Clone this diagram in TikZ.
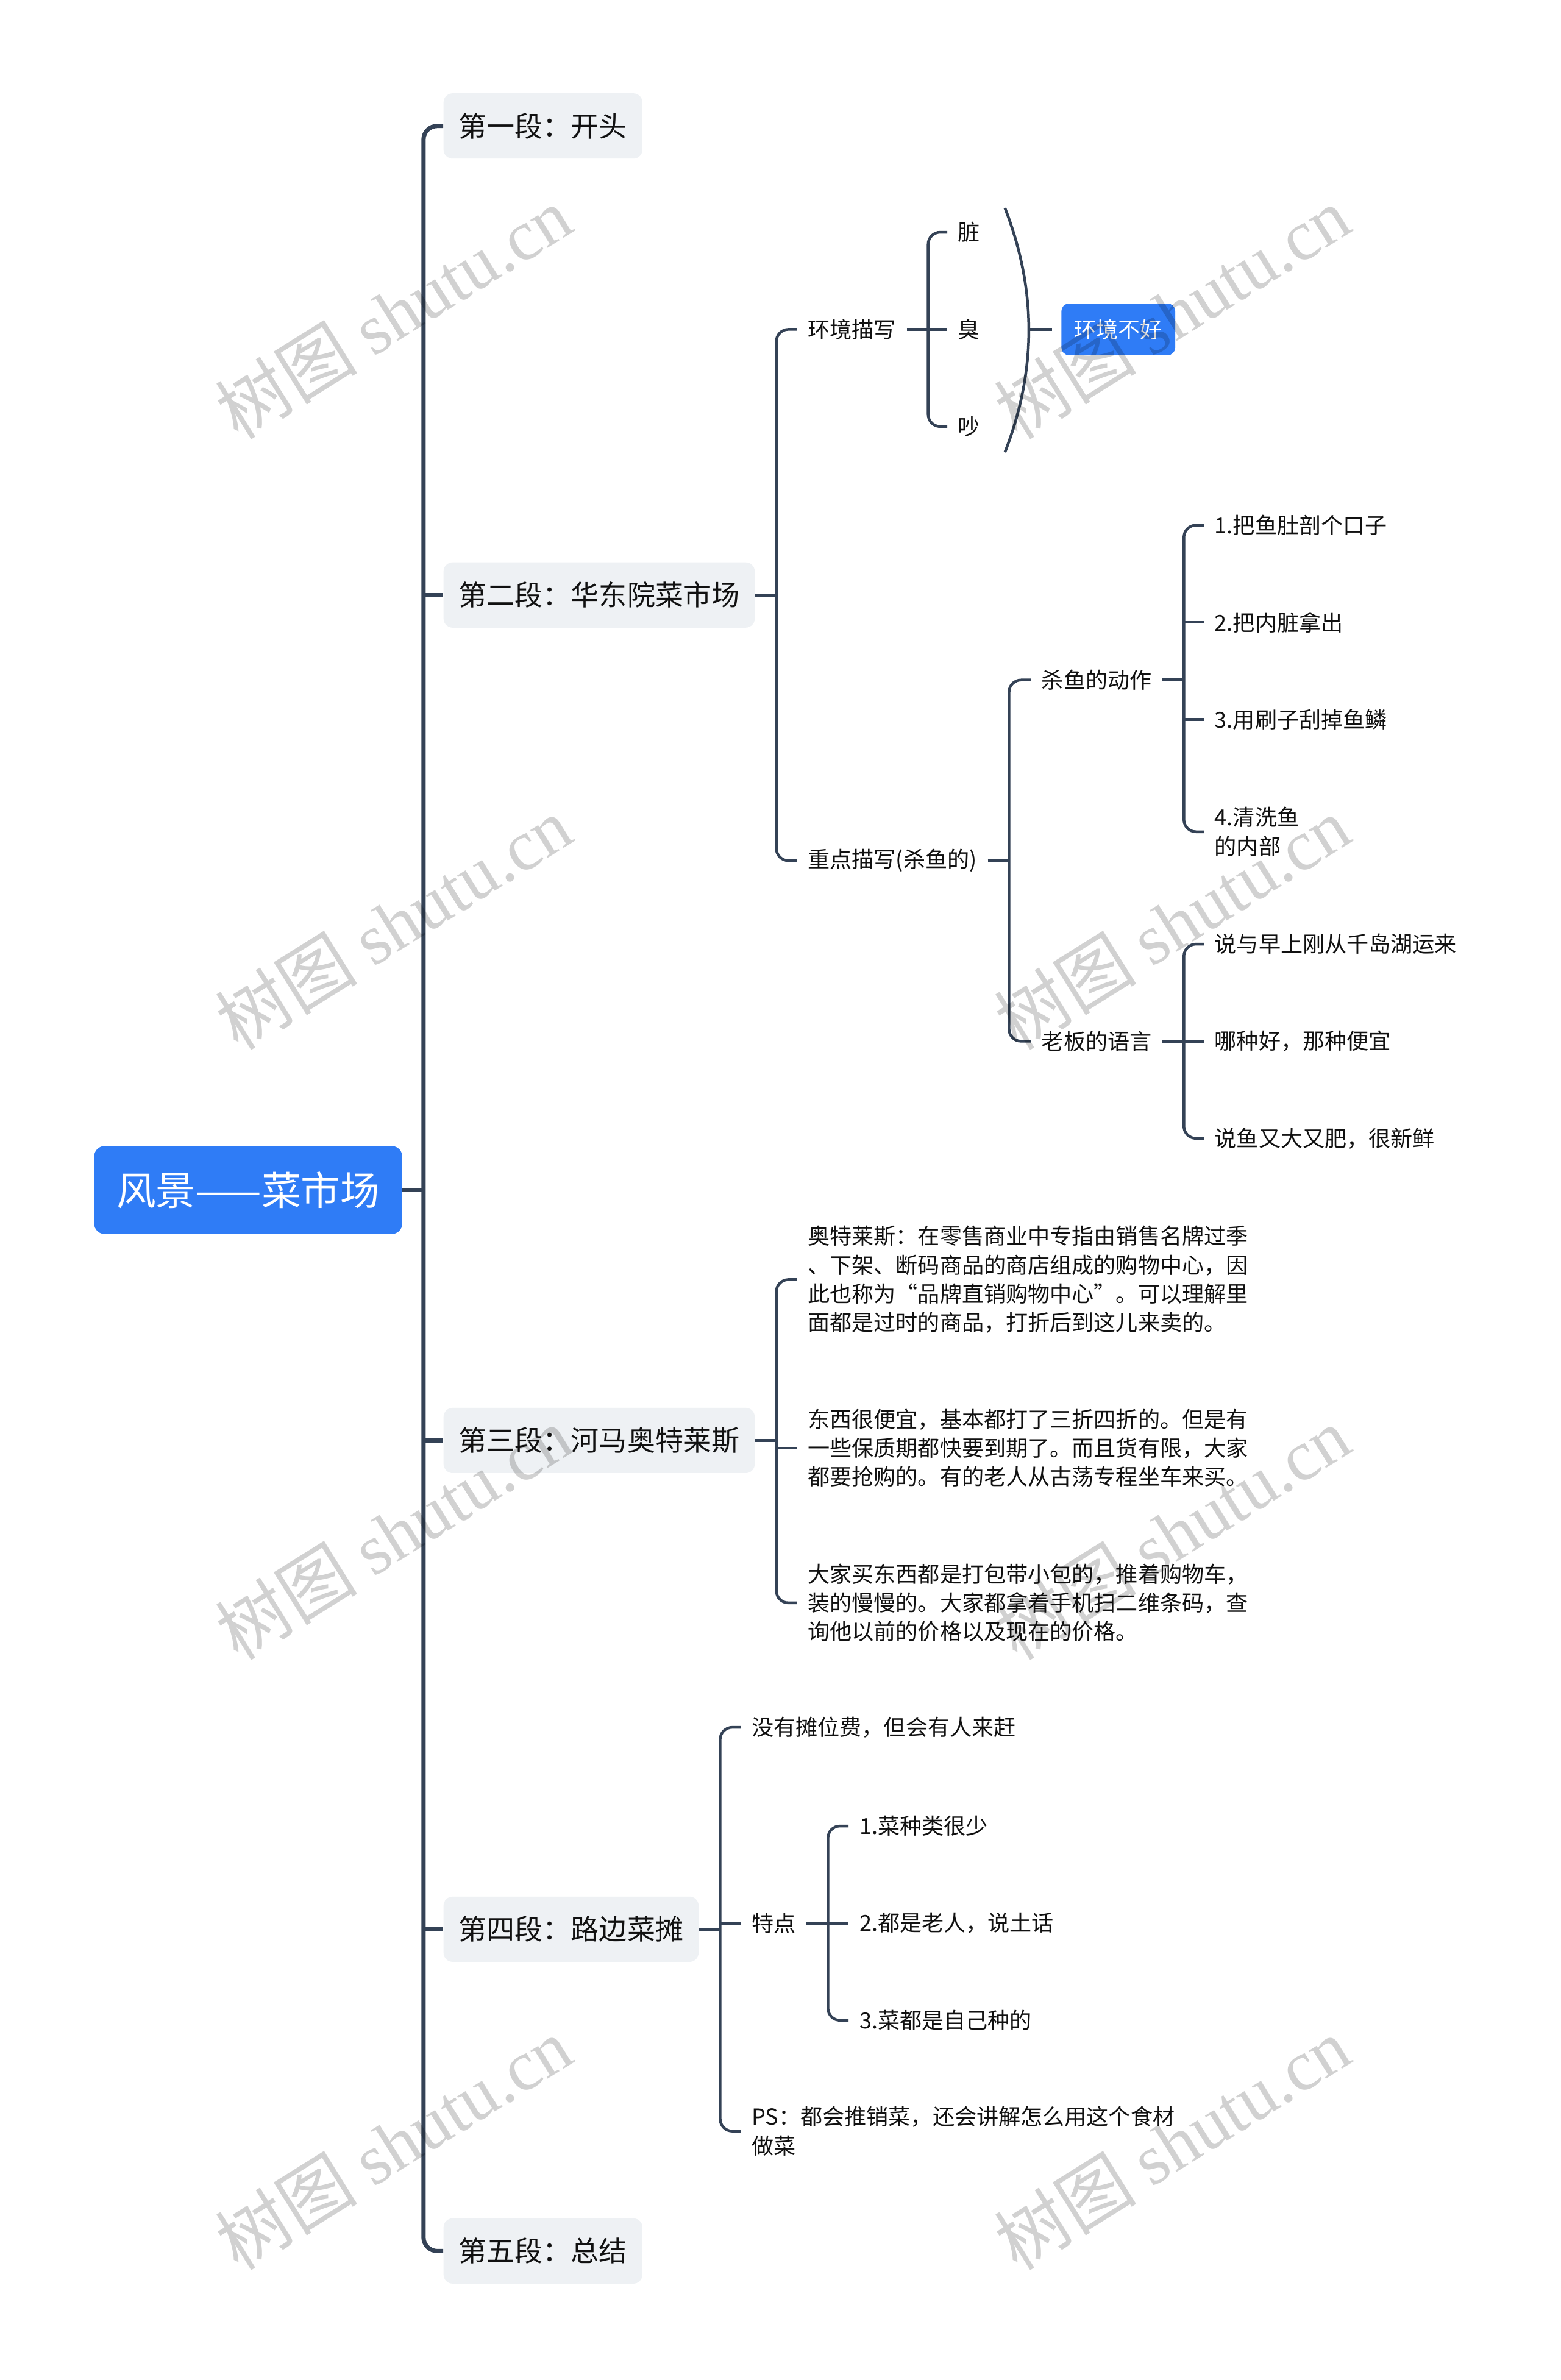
\documentclass[tikz,border=0pt]{standalone}
\usepackage{fontspec}
\setmainfont{Noto Sans CJK SC}
\newfontfamily\wmlatin{Liberation Serif}
\usetikzlibrary{calc}
\definecolor{rootblue}{HTML}{2F7CF6}
\definecolor{lonegrey}{HTML}{EEF1F4}
\definecolor{linec}{HTML}{344256}
\definecolor{txtc}{HTML}{111111}
\begin{document}
\begin{tikzpicture}[x=1pt,y=-1pt,
  rootbox/.style={fill=rootblue, text=white, rounded corners=7pt, minimum width=203pt, minimum height=58pt, inner sep=0pt, font=\fontsize{26}{30}\selectfont},
  lonebox/.style={fill=lonegrey, text=txtc, rounded corners=6pt, minimum height=43pt, inner xsep=10pt, inner ysep=0pt, anchor=west, font=\fontsize{18.5}{22}\selectfont},
  leaf/.style={text=txtc, anchor=west, inner xsep=7pt, inner ysep=2pt, font=\fontsize{14.5}{19}\selectfont, align=left},
  tag/.style={fill=rootblue, text=white, rounded corners=5pt, minimum height=34pt, inner xsep=8.5pt, inner ysep=0pt, anchor=west, font=\fontsize{14.5}{18}\selectfont},
  trunk/.style={draw=linec, line width=2.8pt},
  twig/.style={draw=linec, line width=1.8pt},
  rc/.style={rounded corners=8pt},
  wm/.style={text=black, text opacity=0.18, rotate=32, inner sep=0pt, font=\fontsize{47}{47}\selectfont}
]
\fill[white] (0,0) rectangle (1028,1568);
\useasboundingbox (0,0) rectangle (1028,1568);

% root and level 1
\node[rootbox] (root) at (163.5,784) {风景——菜市场};
\node[lonebox] (p1) at (292,83) {第一段：开头};
\node[lonebox] (p2) at (292,392) {第二段：华东院菜市场};
\node[lonebox] (p3) at (292,949) {第三段：河马奥特莱斯};
\node[lonebox] (p4) at (292,1271) {第四段：路边菜摊};
\node[lonebox] (p5) at (292,1483) {第五段：总结};
\coordinate (s0) at (279,0);
\draw[trunk] (root.east) -- (s0 |- root.east);
\draw[trunk, rounded corners=9pt] (p1.west) -| (s0 |- p5.west) -- (p5.west);
\foreach \n in {p2,p3,p4} \draw[trunk] (s0 |- \n.west) -- (\n.west);

% section 2
\node[leaf] (hj) at (525,217) {环境描写};
\node[leaf] (zd) at (525,567) {重点描写(杀鱼的)};
\coordinate (s2) at ($(p2.east)+(14,0)$);
\draw[twig] (p2.east) -- (s2);
\draw[twig, rc] (hj.west) -| (s2 |- zd.west) -- (zd.west);

\node[leaf] (zang) at (624,153) {脏};
\node[leaf] (chou) at (624,217) {臭};
\node[leaf] (chao) at (624,281) {吵};
\coordinate (s21) at ($(hj.east)+(14,0)$);
\draw[twig] (hj.east) -- (s21);
\draw[twig] (s21 |- chou.west) -- (chou.west);
\draw[twig, rc] (zang.west) -| (s21 |- chao.west) -- (chao.west);

\coordinate (bt) at (662,137);
\coordinate (bb) at (662,298);
\coordinate (bm) at (678,217);
\draw[twig] (bt) .. controls (683,191) and (683,244) .. (bb);
\node[tag] (bad) at (699,217) {环境不好};
\draw[twig, shorten >=6pt] (bm) -- (bad.west);

\node[leaf] (sy) at (679,448) {杀鱼的动作};
\node[leaf] (lb) at (679,686) {老板的语言};
\coordinate (s22) at ($(zd.east)+(14,0)$);
\draw[twig] (zd.east) -- (s22);
\draw[twig, rc] (sy.west) -| (s22 |- lb.west) -- (lb.west);

\node[leaf] (a1) at (793,346) {1.把鱼肚剖个口子};
\node[leaf] (a2) at (793,410) {2.把内脏拿出};
\node[leaf] (a3) at (793,474) {3.用刷子刮掉鱼鳞};
\node[leaf] (a4) at (793,548) {4.清洗鱼\\的内部};
\coordinate (s23) at ($(sy.east)+(14,0)$);
\draw[twig] (sy.east) -- (s23);
\draw[twig, rc] (a1.west) -| (s23 |- a4.west) -- (a4.west);
\foreach \n in {a2,a3} \draw[twig] (s23 |- \n.west) -- (\n.west);

\node[leaf] (b1) at (793,622) {说与早上刚从千岛湖运来};
\node[leaf] (b2) at (793,686) {哪种好，那种便宜};
\node[leaf] (b3) at (793,750) {说鱼又大又肥，很新鲜};
\coordinate (s24) at ($(lb.east)+(14,0)$);
\draw[twig] (lb.east) -- (s24);
\draw[twig, rc] (b1.west) -| (s24 |- b3.west) -- (b3.west);
\draw[twig] (s24 |- b2.west) -- (b2.west);

% section 3
\node[leaf] (t1) at (525,843) {奥特莱斯：在零售商业中专指由销售名牌过季\\、下架、断码商品的商店组成的购物中心，因\\此也称为“品牌直销购物中心”。可以理解里\\面都是过时的商品，打折后到这儿来卖的。};
\node[leaf] (t2) at (525,954) {东西很便宜，基本都打了三折四折的。但是有\\一些保质期都快要到期了。而且货有限，大家\\都要抢购的。有的老人从古荡专程坐车来买。};
\node[leaf] (t3) at (525,1056) {大家买东西都是打包带小包的，推着购物车，\\装的慢慢的。大家都拿着手机扫二维条码，查\\询他以前的价格以及现在的价格。};
\coordinate (s3) at ($(p3.east)+(14,0)$);
\draw[twig] (p3.east) -- (s3);
\draw[twig, rc] (t1.west) -| (s3 |- t3.west) -- (t3.west);
\draw[twig] (s3 |- t2.west) -- (t2.west);

% section 4
\node[leaf] (q1) at (488,1138) {没有摊位费，但会有人来赶};
\node[leaf] (q2) at (488,1267) {特点};
\node[leaf] (q3) at (488,1404) {PS：都会推销菜，还会讲解怎么用这个食材\\做菜};
\coordinate (s4) at ($(p4.east)+(14,0)$);
\draw[twig] (p4.east) -- (s4);
\draw[twig, rc] (q1.west) -| (s4 |- q3.west) -- (q3.west);
\draw[twig] (s4 |- q2.west) -- (q2.west);

\node[leaf] (r1) at (559,1203) {1.菜种类很少};
\node[leaf] (r2) at (559,1267) {2.都是老人，说土话};
\node[leaf] (r3) at (559,1331) {3.菜都是自己种的};
\coordinate (s41) at ($(q2.east)+(14,0)$);
\draw[twig] (q2.east) -- (s41);
\draw[twig, rc] (r1.west) -| (s41 |- r3.west) -- (r3.west);
\draw[twig] (s41 |- r2.west) -- (r2.west);

% watermarks
\foreach \wx/\wy [count=\i] in {259/206, 772/206, 259/608, 772/608, 259/1010, 772/1010, 259/1412, 772/1412}
  \node[wm] (wm\i) at (\wx,\wy) {树图 {\wmlatin shutu.cn}};
\end{tikzpicture}
\end{document}
